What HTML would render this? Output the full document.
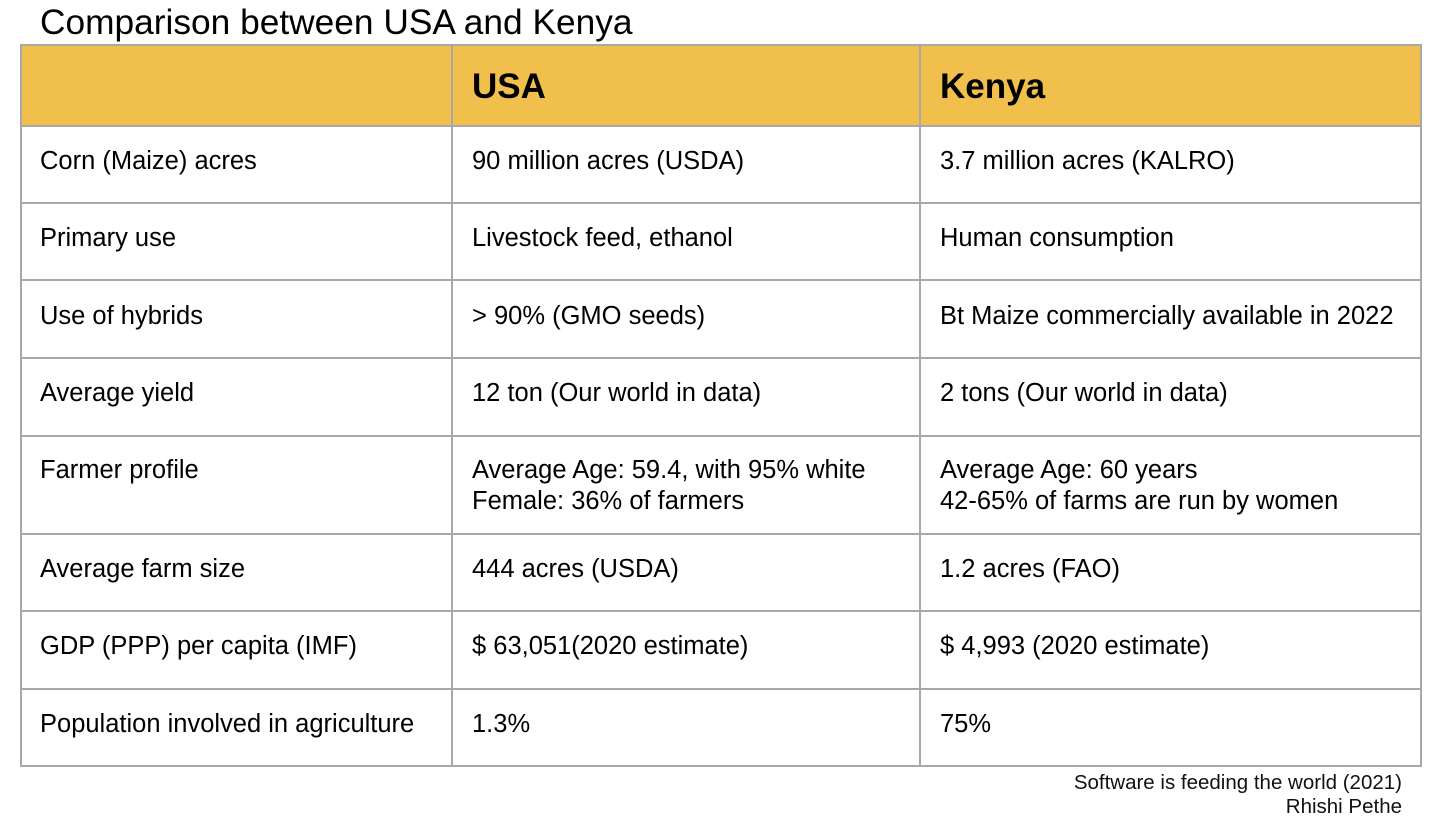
<!DOCTYPE html>
<html>
<head>
<meta charset="utf-8">
<style>
  html, body { margin: 0; padding: 0; }
  body {
    width: 1438px; height: 834px; position: relative; overflow: hidden;
    background: #ffffff;
    font-family: "Liberation Sans", Arial, sans-serif;
    color: #000;
  }
  .abs { position: absolute; }
  .h { position: absolute; left: 20px; width: 1402px; height: 2px; background: #a8a8a8; }
  .v { position: absolute; top: 44px; height: 723px; width: 2px; background: #a8a8a8; }
  .t { position: absolute; font-size: 25.5px; line-height: 31px; white-space: nowrap; }
  .hd { position: absolute; font-size: 35px; line-height: 40px; font-weight: bold; white-space: nowrap; top: 67px; }
</style>
</head>
<body>
  <div class="abs" style="left:40px; top:3px; font-size:35.3px; line-height:40px; white-space:nowrap;">Comparison between USA and Kenya</div>

  <!-- header fill -->
  <div class="abs" style="left:21px; top:45px; width:1400px; height:81px; background:#f1bf4c;"></div>

  <!-- horizontal lines -->
  <div class="h" style="top:44px;"></div>
  <div class="h" style="top:125px;"></div>
  <div class="h" style="top:202px;"></div>
  <div class="h" style="top:279px;"></div>
  <div class="h" style="top:357px;"></div>
  <div class="h" style="top:435px;"></div>
  <div class="h" style="top:533px;"></div>
  <div class="h" style="top:610px;"></div>
  <div class="h" style="top:688px;"></div>
  <div class="h" style="top:765px;"></div>

  <!-- vertical lines -->
  <div class="v" style="left:20px;"></div>
  <div class="v" style="left:451px;"></div>
  <div class="v" style="left:919px;"></div>
  <div class="v" style="left:1420px;"></div>

  <!-- header -->
  <div class="hd" style="left:472px;">USA</div>
  <div class="hd" style="left:940px;">Kenya</div>

  <!-- rows -->
  <div class="t" style="left:40px; top:146px;">Corn (Maize) acres</div>
  <div class="t" style="left:472px; top:146px;">90 million acres (USDA)</div>
  <div class="t" style="left:940px; top:146px;">3.7 million acres (KALRO)</div>

  <div class="t" style="left:40px; top:223px;">Primary use</div>
  <div class="t" style="left:472px; top:223px;">Livestock feed, ethanol</div>
  <div class="t" style="left:940px; top:223px;">Human consumption</div>

  <div class="t" style="left:40px; top:301px;">Use of hybrids</div>
  <div class="t" style="left:472px; top:301px;">&gt; 90% (GMO seeds)</div>
  <div class="t" style="left:940px; top:301px;">Bt Maize commercially available in 2022</div>

  <div class="t" style="left:40px; top:378px;">Average yield</div>
  <div class="t" style="left:472px; top:378px;">12 ton (Our world in data)</div>
  <div class="t" style="left:940px; top:378px;">2 tons (Our world in data)</div>

  <div class="t" style="left:40px; top:455px;">Farmer profile</div>
  <div class="t" style="left:472px; top:455px;">Average Age: 59.4, with 95% white<br>Female: 36% of farmers</div>
  <div class="t" style="left:940px; top:455px;">Average Age: 60 years<br>42-65% of farms are run by women</div>

  <div class="t" style="left:40px; top:554px;">Average farm size</div>
  <div class="t" style="left:472px; top:554px;">444 acres (USDA)</div>
  <div class="t" style="left:940px; top:554px;">1.2 acres (FAO)</div>

  <div class="t" style="left:40px; top:631px;">GDP (PPP) per capita (IMF)</div>
  <div class="t" style="left:472px; top:631px;">$ 63,051(2020 estimate)</div>
  <div class="t" style="left:940px; top:631px;">$ 4,993 (2020 estimate)</div>

  <div class="t" style="left:40px; top:709px;">Population involved in agriculture</div>
  <div class="t" style="left:472px; top:709px;">1.3%</div>
  <div class="t" style="left:940px; top:709px;">75%</div>

  <!-- footer -->
  <div class="abs" style="right:36px; top:771px; font-size:20.5px; line-height:24px; text-align:right; white-space:nowrap; color:#111;">Software is feeding the world (2021)<br>Rhishi Pethe</div>
</body>
</html>
